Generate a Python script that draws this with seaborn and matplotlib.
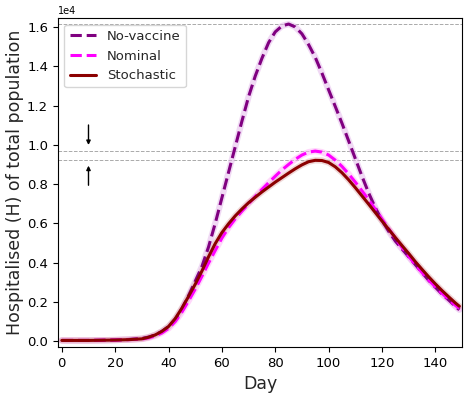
import numpy as np
import pandas as pd
import matplotlib
matplotlib.use('Agg')
import matplotlib.pyplot as plt
import seaborn as sns

# values, in units of 1e4
days = [0, 5, 10, 15, 20, 25, 30, 32.5, 35, 37.5, 40, 42.5, 45, 47.5, 50, 52.5,
        55, 57.5, 60, 62.5, 65, 67.5, 70, 72.5, 75, 77.5, 80, 82.5, 85, 87.5,
        90, 92.5, 95, 97.5, 100, 102.5, 105, 107.5, 110, 112.5, 115, 117.5,
        120, 122.5, 125, 127.5, 130, 132.5, 135, 137.5, 140, 142.5, 145, 147.5, 149]
no_vaccine = [0.004, 0.004, 0.004, 0.005, 0.006, 0.009, 0.014, 0.021, 0.032, 0.05,
              0.074, 0.11, 0.165, 0.232, 0.305, 0.38, 0.48, 0.60, 0.73, 0.86,
              0.99, 1.12, 1.245, 1.35, 1.44, 1.52, 1.575, 1.605, 1.615, 1.60,
              1.565, 1.51, 1.445, 1.365, 1.28, 1.195, 1.11, 1.02, 0.93, 0.84,
              0.755, 0.68, 0.615, 0.56, 0.51, 0.47, 0.43, 0.39, 0.35, 0.31,
              0.275, 0.24, 0.21, 0.178, 0.16]
nominal = [0.004, 0.004, 0.004, 0.005, 0.006, 0.008, 0.011, 0.017, 0.027, 0.042,
           0.065, 0.1, 0.148, 0.205, 0.265, 0.33, 0.398, 0.462, 0.525, 0.578,
           0.623, 0.662, 0.70, 0.737, 0.773, 0.807, 0.84, 0.872, 0.90, 0.926,
           0.948, 0.963, 0.968, 0.963, 0.948, 0.922, 0.89, 0.852, 0.81, 0.766,
           0.72, 0.672, 0.622, 0.573, 0.525, 0.478, 0.433, 0.39, 0.35, 0.312,
           0.277, 0.244, 0.213, 0.183, 0.167]
stochastic = [0.004, 0.004, 0.004, 0.005, 0.006, 0.008, 0.012, 0.02, 0.032, 0.05,
              0.075, 0.115, 0.168, 0.228, 0.29, 0.357, 0.43, 0.497, 0.553, 0.598,
              0.638, 0.673, 0.705, 0.733, 0.76, 0.785, 0.81, 0.833, 0.856, 0.878,
              0.898, 0.914, 0.921, 0.92, 0.91, 0.888, 0.858, 0.822, 0.782, 0.74,
              0.698, 0.655, 0.612, 0.57, 0.528, 0.487, 0.447, 0.405, 0.366, 0.328,
              0.292, 0.258, 0.226, 0.195, 0.178]

ref_lines = [1.615, 0.968, 0.922]
scale = 1e4

sns.set_style('ticks')
plt.rcParams['font.family'] = ['DejaVu Sans']

fig = plt.figure(figsize=(4.7, 3.94), dpi=100)
ax = fig.add_axes([0.123, 0.119, 0.860, 0.835])

series = [
    ('No-vaccine', no_vaccine, 'purple', '--', '#e2b4ea'),
    ('Nominal', nominal, '#ff00ff', '--', '#ffb0f8'),
    ('Stochastic', stochastic, '#8b0000', '-', '#e0b0b0'),
]

for y in ref_lines:
    ax.axhline(y * scale, color='#aaaaaa', linestyle='--', linewidth=0.7, zorder=1)

# confidence band look
for name, vals, col, ls, band in series:
    sns.lineplot(x=days, y=np.array(vals) * scale, ax=ax, color=band,
                 linewidth=4.5, alpha=0.5, zorder=2)

for name, vals, col, ls, band in series:
    sns.lineplot(x=days, y=np.array(vals) * scale, ax=ax, color=col,
                 linestyle=ls, linewidth=2.2, label=name, zorder=3)

ax.annotate('', xy=(10, 0.985 * scale), xytext=(10, 1.115 * scale),
            arrowprops=dict(arrowstyle='-|>', color='black', lw=1, mutation_scale=6))
ax.annotate('', xy=(10, 0.908 * scale), xytext=(10, 0.78 * scale),
            arrowprops=dict(arrowstyle='-|>', color='black', lw=1, mutation_scale=6))

ax.set_xlim(-1.5, 150)
ax.set_ylim(-0.03 * scale, 1.645 * scale)
ax.set_xticks(range(0, 141, 20))
ax.ticklabel_format(axis='y', style='sci', scilimits=(0, 0))
ax.yaxis.get_offset_text().set_fontsize(7)
ax.tick_params(labelsize=9.5, colors='black')
for s in ax.spines.values():
    s.set_color('black')
ax.set_xlabel('Day', fontsize=12.5)
ax.set_ylabel('Hospitalised (H) of total population', fontsize=12.5, labelpad=2)
ax.legend(loc='upper left', fontsize=9.5, frameon=True)

fig.savefig('out.png', dpi=100)
